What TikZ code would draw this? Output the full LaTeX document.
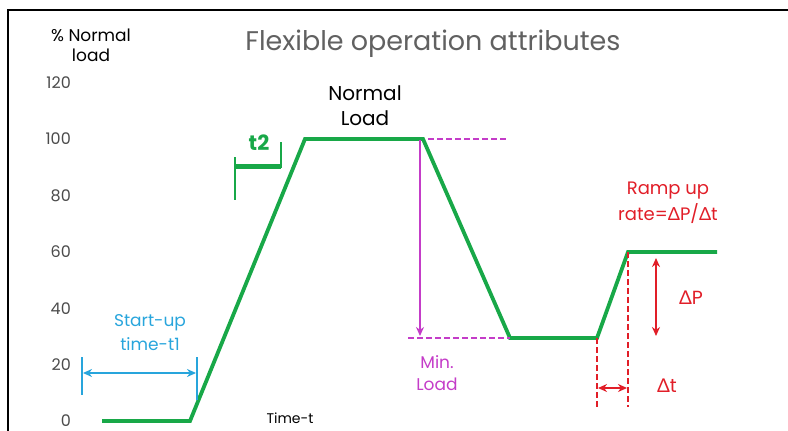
\documentclass[tikz,border=0pt]{standalone}
\usepackage{fontspec}
\setmainfont{Poppins}
\newfontfamily\deltafont{Lato}
\usetikzlibrary{positioning, arrows.meta}
\definecolor{loadgreen}{RGB}{24,168,72}
\definecolor{startblue}{RGB}{40,165,220}
\definecolor{minmagenta}{RGB}{196,60,200}
\definecolor{ramped}{RGB}{225,30,40}
\definecolor{ticktext}{RGB}{75,75,75}
\tikzset{
    >={Stealth[length=9pt, width=8pt]}, % bold arrow heads
    every node/.style={inner sep=0pt, align=center},
    curve/.style={loadgreen, line width=3.8pt, line join=miter}, % the load profile
    tick/.style={text=ticktext, anchor=east, font=\fontsize{16}{16}\selectfont},
    guide/.style={line width=1.1pt},
    dimarrow/.style={<->, line width=2.4pt},
    dashline/.style={dashed, dash pattern=on 6pt off 3pt, line width=2.6pt},
}
\begin{document}
\begin{tikzpicture}[x=1pt, y=-1pt]
    \useasboundingbox (0,0) rectangle (788,431);
    \draw[line width=1.8pt] (8,431) -- (8,10) -- (788,10);

    % axis texts
    \node[font=\fontsize{17}{20}\selectfont] (ylabel) at (91,45) {\% Normal\\load};
    \node[tick] (y120) at (71,83) {120};
    \node[tick] (y100) at (71,139) {100};
    \node[tick] (y80) at (71,196) {80};
    \node[tick] (y60) at (71,252) {60};
    \node[tick] (y40) at (71,309) {40};
    \node[tick] (y20) at (71,365) {20};
    \node[tick, anchor=base east] (y0) at (71,426) {0};
    \node[font=\fontsize{14}{14}\selectfont, anchor=south] (timet) at (290,424) {Time-t};
    \node[text=black!62, font=\fontsize{27}{27}\selectfont] (title) at (433,44) {Flexible operation attributes};

    % load profile
    \coordinate (p0) at (102,421);
    \coordinate (p1) at (190,421);
    \coordinate (p2) at (305,139);
    \coordinate (p3) at (423,139);
    \coordinate (p4) at (510,338);
    \coordinate (p5) at (597,338);
    \coordinate (p6) at (628,252);
    \coordinate (p7) at (717,252);
    \draw[curve] (p0) -- (p1) -- (p2) -- (p3) -- (p4) -- (p5) -- (p6) -- (p7);
    \node[font=\fontsize{20}{25}\selectfont] (normal) at (365,106) {Normal\\Load};

    % t2
    \coordinate (t2a) at (235,157);
    \coordinate (t2b) at (235,200);
    \coordinate (t2c) at (281,142);
    \coordinate (t2d) at (281,168);
    \draw[loadgreen, guide] (t2a) -- (t2b) (t2c) -- (t2d);
    \draw[loadgreen, line width=5pt] (235,166) coordinate (t2l) -- (281,166) coordinate (t2r);
    \node[loadgreen, font=\bfseries\fontsize{21}{21}\selectfont] (t2) at (259,143) {t2};

    % start-up time
    \coordinate (s1a) at (82,357);
    \coordinate (s1b) at (82,395);
    \coordinate (s2a) at (197,357);
    \coordinate (s2b) at (197,400);
    \draw[startblue, guide] (s1a) -- (s1b) (s2a) -- (s2b);
    \coordinate (sl) at (83,373);
    \coordinate (sr) at (196,373);
    \draw[startblue, dimarrow] (sl) -- (sr);
    \node[startblue, font=\fontsize{17}{24}\selectfont] (startup) at (150,333) {Start-up\\time-t1};

    % minimum load
    \coordinate (m0) at (428,139);
    \coordinate (m1) at (508,139);
    \draw[minmagenta, dashline] (m0) -- (m1);
    \coordinate (ma) at (420,140);
    \coordinate (mb) at (420,336);
    \draw[minmagenta, ->, line width=2.2pt] (ma) -- (mb);
    \coordinate (m2) at (408,338);
    \draw[minmagenta, dashline] (m2) -- (p4);
    \node[minmagenta, font=\fontsize{17}{22}\selectfont] (minload) at (437,373) {Min.\\Load};

    % ramp up rate
    \node[ramped, font=\fontsize{18}{26}\selectfont] (ramp) at (668,203) {Ramp up\\rate={\deltafont Δ}P/{\deltafont Δ}t};
    \coordinate (r0) at (597,407);
    \coordinate (r1) at (628,407);
    \draw[ramped, dashline] (p5) -- (r0) (p6) -- (r1);
    \coordinate (dpa) at (656,258);
    \coordinate (dpb) at (656,336);
    \draw[ramped, dimarrow] (dpa) -- (dpb);
    \node[ramped, font=\fontsize{19}{19}\selectfont] (dp) at (691,298) {{\deltafont Δ}P};
    \coordinate (dta) at (598,388);
    \coordinate (dtb) at (627,388);
    \draw[ramped, dimarrow] (dta) -- (dtb);
    \node[ramped, font=\fontsize{19}{19}\selectfont] (dt) at (667,386) {{\deltafont Δ}t};
\end{tikzpicture}
\end{document}
